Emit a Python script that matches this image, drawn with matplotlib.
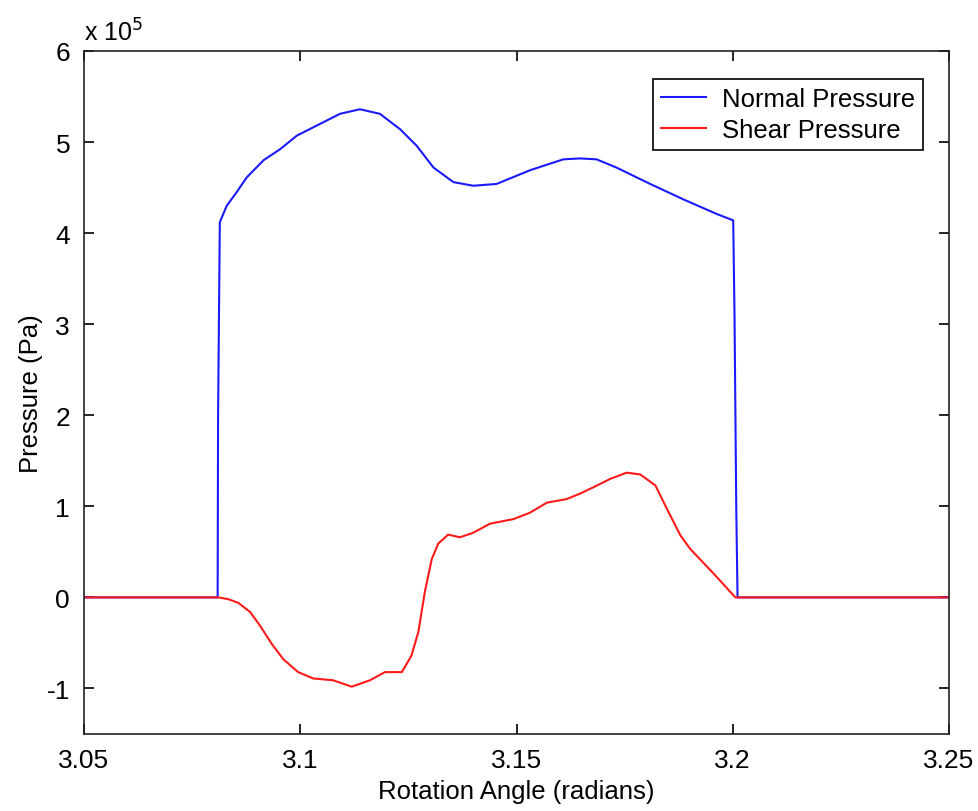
import matplotlib.pyplot as plt
import numpy as np

plt.rcParams["font.family"] = ["Liberation Sans", "DejaVu Sans"]
plt.rcParams["axes.unicode_minus"] = False

# angle (rad) / pressure (x 1e5 Pa)
normal_x = [3.05, 3.0809, 3.0810, 3.0814, 3.0830, 3.0853, 3.0876, 3.0915, 3.0953,
            3.0992, 3.1046, 3.1092, 3.1138, 3.1184, 3.1231, 3.1269, 3.1308,
            3.1354, 3.1400, 3.1454, 3.1531, 3.1608, 3.1647, 3.1685, 3.1731,
            3.1809, 3.1886, 3.1963, 3.2001, 3.2004, 3.2008, 3.2011, 3.25]
normal_y = [0, 0, 2.0, 4.12, 4.30, 4.45, 4.61, 4.80, 4.92,
            5.07, 5.20, 5.31, 5.36, 5.31, 5.14, 4.96, 4.72,
            4.56, 4.52, 4.54, 4.69, 4.81, 4.82, 4.81, 4.72,
            4.54, 4.37, 4.21, 4.14, 3.1, 1.0, 0, 0]

shear_x = [3.05, 3.0811, 3.0834, 3.0857, 3.0884, 3.0907, 3.0934, 3.0961, 3.0995,
           3.1030, 3.1076, 3.1119, 3.1161, 3.1196, 3.1235, 3.1257, 3.1273,
           3.1288, 3.1304, 3.1319, 3.1342, 3.1369, 3.1400, 3.1439, 3.1493,
           3.1531, 3.1570, 3.1616, 3.1647, 3.1678, 3.1716, 3.1755, 3.1786,
           3.1821, 3.1848, 3.1879, 3.1902, 3.1956, 3.2006, 3.25]
shear_y = [0, 0, -0.02, -0.06, -0.16, -0.31, -0.51, -0.68, -0.82,
           -0.89, -0.91, -0.98, -0.91, -0.82, -0.82, -0.64, -0.38,
           0.06, 0.42, 0.59, 0.69, 0.66, 0.71, 0.81, 0.86,
           0.93, 1.04, 1.08, 1.14, 1.21, 1.30, 1.37, 1.35,
           1.23, 0.97, 0.68, 0.53, 0.26, 0, 0]

x_ticks = [3.05, 3.1, 3.15, 3.2, 3.25]
x_tick_labels = ["3.05", "3.1", "3.15", "3.2", "3.25"]
y_ticks = [-1, 0, 1, 2, 3, 4, 5, 6]


def main():
    fig = plt.figure(figsize=(9.79, 8.12), dpi=100)
    ax = fig.add_axes([0.0858, 0.0948, 0.8836, 0.8412])

    ax.plot(normal_x, normal_y, color="#1a1aff", lw=1.5, label="Normal Pressure")
    ax.plot(shear_x, shear_y, color="#ff1a1a", lw=1.5, label="Shear Pressure")

    ax.set_xlim(3.05, 3.25)
    ax.set_ylim(-1.5, 6)
    ax.set_xticks(x_ticks)
    ax.set_xticklabels(x_tick_labels)
    ax.set_yticks(y_ticks)
    ax.tick_params(direction="in", length=7, width=1.2, labelsize=19,
                   top=True, right=True, pad=10)
    for sp in ax.spines.values():
        sp.set_linewidth(1.2)
        sp.set_color("#222222")

    ax.set_xlabel("Rotation Angle (radians)", fontsize=18.5, labelpad=5)
    ax.set_ylabel("Pressure (Pa)", fontsize=18.5, labelpad=3)
    fig.text(84 / 979, 1 - 33 / 812, "x 10$^5$", fontsize=18, va="center", ha="left")

    leg = ax.legend(loc="upper right", bbox_to_anchor=(0.970, 0.959), fontsize=18.5,
                    fancybox=False, framealpha=1, edgecolor="black",
                    handlelength=1.75, handletextpad=0.65, borderpad=0.3,
                    labelspacing=0.3, borderaxespad=0)
    leg.get_frame().set_linewidth(1.2)

    fig.savefig("out.png", dpi=100)
    plt.close(fig)


if __name__ == "__main__":
    main()
